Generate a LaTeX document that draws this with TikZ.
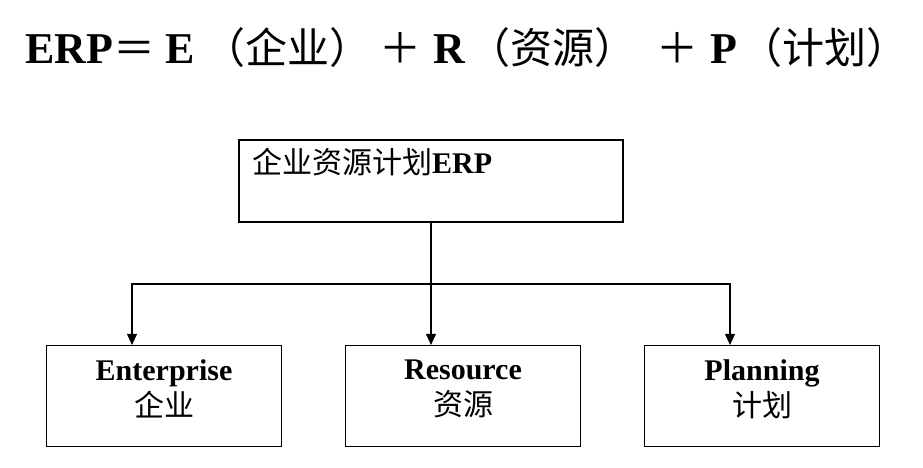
\documentclass[tikz,border=0pt]{standalone}
\usepackage{fontspec}
\setmainfont{Liberation Serif}
\newfontfamily\cjk{Noto Sans CJK SC}
\usetikzlibrary{arrows.meta}
\newcommand{\boxtxt}[2]{\parbox[c][101pt][t]{235pt}{\centering\fontsize{30}{36}\selectfont\vspace*{14pt}\textbf{#1}\\{\cjk #2}}}
\newcommand{\tcj}[1]{{\cjk\fontsize{42}{50}\selectfont #1}}
\tikzset{
  frame/.style={draw, line width=1.2pt, inner sep=0pt},
  conn/.style={line width=1.1pt},
  arr/.style={conn, -{Triangle[width=10pt,length=11pt]}}
}
\begin{document}
\begin{tikzpicture}[x=1pt,y=-1pt]
\useasboundingbox (0,0) rectangle (923,468);
% title
\node[anchor=base west, inner sep=0pt] (title) at (25,64)
  {\fontsize{44}{50}\selectfont\textbf{ERP}\tcj{＝}\hspace{10pt}\textbf{E}\hspace{9pt}\tcj{（企业）}\hspace{8pt}\tcj{＋}\hspace{12pt}\textbf{R}\hspace{3pt}\tcj{（资源）}\hspace{20pt}\tcj{＋}\hspace{12pt}\textbf{P}\hspace{3pt}\tcj{（计划）}};
% top box
\node[frame, minimum width=384pt, minimum height=82pt] (top) at (431,181) {};
\node[anchor=base west, inner sep=0pt] (toptext) at (252,173)
  {\fontsize{30}{36}\selectfont{\cjk 企业资源计划}\textbf{ERP}};
% bottom boxes
\node[frame] (b1) at (164,396) {\boxtxt{Enterprise}{企业}};
\node[frame] (b2) at (463,396) {\boxtxt{Resource}{资源}};
\node[frame] (b3) at (762,396) {\boxtxt{Planning}{计划}};
% connectors
\coordinate (j) at (431,284);
\draw[conn] (top.south) -- (j);
\draw[arr] (j) -| ([xshift=-32pt]b1.north);
\draw[arr] (j) -| ([xshift=-32pt]b3.north);
\draw[arr] (j) -- ([xshift=-32pt]b2.north);
\end{tikzpicture}
\end{document}
